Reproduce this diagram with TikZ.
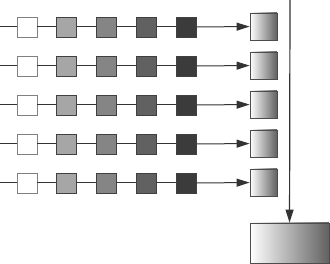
\documentclass[tikz,border=0pt]{standalone}
\usepackage{tikz}
\usetikzlibrary{positioning,arrows.meta}

\begin{document}
\begin{tikzpicture}[
  x=1pt, y=-1pt,
  cell/.style={draw=black!75, line width=0.8pt, minimum size=20pt, inner sep=0pt},
  outbox/.style={draw=black!70, line width=0.8pt, inner sep=0pt, left color=white, right color=black!62},
  link/.style={draw=black!80, line width=1pt},
  arrow/.style={link, -{Triangle[length=13pt, width=8pt]}},
  node distance=19pt
]
\useasboundingbox (0,0) rectangle (330,264);

\foreach \r in {1,...,5} {
  \node[cell, fill=white, draw=black!50] (c\r1) at (27, {27+39*(\r-1)}) {};
  \node[cell, fill=black!35, right=of c\r1] (c\r2) {};
  \node[cell, fill=black!48, right=of c\r2] (c\r3) {};
  \node[cell, fill=black!62, right=of c\r3] (c\r4) {};
  \node[cell, fill=black!77, right=of c\r4] (c\r5) {};
  \node[outbox, minimum size=27pt] (o\r) at (263.5, {26.5+39*(\r-1)}) {};
  \coordinate (s\r) at (0, {27+39*(\r-1)});
  \draw[link] (s\r) -- (c\r1);
  \draw[link] (c\r1) -- (c\r2);
  \draw[link] (c\r2) -- (c\r3);
  \draw[link] (c\r3) -- (c\r4);
  \draw[link] (c\r4) -- (c\r5);
  \draw[arrow] (c\r5) -- (o\r);
}

\node[outbox, minimum width=79pt, minimum height=40pt] (total) at (289.5, 243) {};
\coordinate (top) at (290, 0);
\draw[arrow, line width=1.2pt] (top) -- (total);
\end{tikzpicture}
\end{document}
